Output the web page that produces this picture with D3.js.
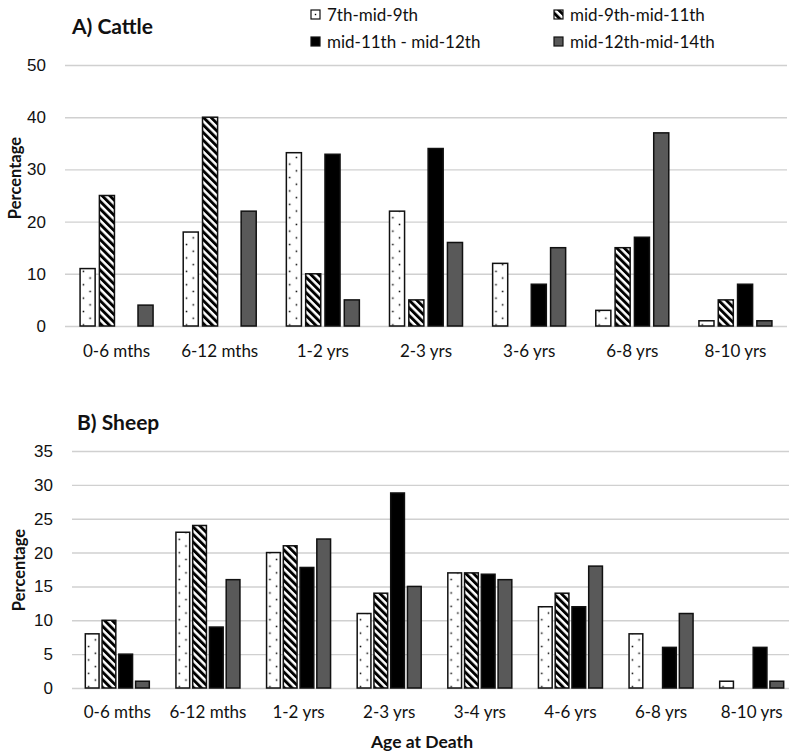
<!DOCTYPE html>
<html lang="en">
<head>
<meta charset="UTF-8">
<title>Age at Death - Cattle and Sheep</title>
<script src="https://cdn.jsdelivr.net/npm/d3@7/dist/d3.min.js"></script>
<style>
  body { margin: 0; background: #fff; }
  svg { display: block; font-family: Lato, "Open Sans", sans-serif; }
</style>
</head>
<body>
<div id="chart"></div>
<script>
// series names (legend order)
const periods = ["7th-mid-9th", "mid-9th-mid-11th", "mid-11th - mid-12th", "mid-12th-mid-14th"];

// A) Cattle
const cattleAges = ["0-6 mths", "6-12 mths", "1-2 yrs", "2-3 yrs", "3-6 yrs", "6-8 yrs", "8-10 yrs"];
const cattle7th9th = [11, 18, 33.2, 22, 12, 3, 1];
const cattle9th11th = [25, 40, 10, 5, 0, 15, 5];
const cattle11th12th = [0, 0, 32.9, 34, 8, 17, 8];
const cattle12th14th = [4, 22, 5, 16, 15, 37, 1];
const cattleTicks = [0, 10, 20, 30, 40, 50];

// B) Sheep
const sheepAges = ["0-6 mths", "6-12 mths", "1-2 yrs", "2-3 yrs", "3-4 yrs", "4-6 yrs", "6-8 yrs", "8-10 yrs"];
const sheep7th9th = [8, 23, 20, 11, 17, 12, 8, 1];
const sheep9th11th = [10, 24, 21, 14, 17, 14, 0, 0];
const sheep11th12th = [5, 9, 17.8, 28.8, 16.8, 12, 6, 6];
const sheep12th14th = [1, 16, 22, 15, 16, 18, 11, 1];
const sheepTicks = [0, 5, 10, 15, 20, 25, 30, 35];

const W = 789, H = 751;
const fills = ["url(#dots)", "url(#hatch)", "#000", "#595959"];

const svg = d3.select("#chart").append("svg")
  .attr("width", W).attr("height", H);

// patterns
const defs = svg.append("defs");
const dots = defs.append("pattern")
  .attr("id", "dots").attr("patternUnits", "userSpaceOnUse")
  .attr("width", 13.4).attr("height", 13.4);
dots.append("rect").attr("width", 13.4).attr("height", 13.4).attr("fill", "#fff");
dots.append("rect").attr("x", 2.6).attr("y", 2.6).attr("width", 1.5).attr("height", 1.5).attr("fill", "#000");
dots.append("rect").attr("x", 9.3).attr("y", 9.3).attr("width", 1.5).attr("height", 1.5).attr("fill", "#000");

const hatch = defs.append("pattern")
  .attr("id", "hatch").attr("patternUnits", "userSpaceOnUse")
  .attr("width", 5.4).attr("height", 10)
  .attr("patternTransform", "rotate(-45)");
hatch.append("rect").attr("width", 5.4).attr("height", 10).attr("fill", "#fff");
hatch.append("rect").attr("width", 2.9).attr("height", 10).attr("fill", "#000");

function drawPanel(opt) {
  const x0 = d3.scaleBand().domain(opt.ages).range([opt.left, opt.right]).paddingInner(0).paddingOuter(0);
  const x1 = d3.scaleBand().domain(d3.range(4)).range([0, opt.groupW]).paddingInner(opt.barPad);
  const y = d3.scaleLinear().domain([0, opt.max]).range([opt.bottom, opt.top]);

  const g = svg.append("g");

  // gridlines + tick labels
  const yAxis = d3.axisLeft(y).tickValues(opt.ticks)
    .tickSize(-(opt.right - opt.left)).tickPadding(18);
  const ga = g.append("g").attr("transform", `translate(${opt.left},0)`).call(yAxis);
  ga.select(".domain").remove();
  ga.selectAll(".tick line").attr("stroke", "#d0d0d0").attr("stroke-width", 1.4);
  ga.selectAll(".tick text").attr("font-size", 17).attr("fill", "#111")
    .attr("x", opt.tickX - opt.left);

  // bars
  const series = opt.series;
  const groups = g.selectAll(".grp").data(opt.ages).join("g")
    .attr("transform", d => `translate(${x0(d) + (x0.bandwidth() - opt.groupW) / 2},0)`);
  groups.selectAll("rect")
    .data((d, i) => series.map((s, k) => ({ k: k, v: s[i] })))
    .join("rect")
    .filter(d => d.v > 0)
    .attr("x", d => x1(d.k))
    .attr("y", d => y(d.v))
    .attr("width", x1.bandwidth())
    .attr("height", d => y(0) - y(d.v))
    .attr("fill", d => fills[d.k])
    .attr("stroke", "#111")
    .attr("stroke-width", 1.5);

  // category labels
  g.selectAll(".cat").data(opt.ages).join("text")
    .attr("x", d => x0(d) + x0.bandwidth() / 2)
    .attr("y", opt.labelY)
    .attr("text-anchor", "middle")
    .attr("font-size", 17).attr("fill", "#111")
    .text(d => d);

  // panel title
  g.append("text").attr("x", opt.titleX).attr("y", opt.titleY)
    .attr("font-size", 21).attr("font-weight", "bold").attr("fill", "#111")
    .text(opt.title);

  // y title
  g.append("text")
    .attr("transform", `translate(${opt.yTitleX},${opt.yTitleY}) rotate(-90)`)
    .attr("text-anchor", "middle")
    .attr("font-size", 16.5).attr("font-weight", "bold").attr("fill", "#111")
    .text("Percentage");
}

drawPanel({
  ages: cattleAges, ticks: cattleTicks, max: 50,
  series: [cattle7th9th, cattle9th11th, cattle11th12th, cattle12th14th],
  left: 65, right: 787, top: 65, bottom: 326, groupW: 73, barPad: 0.22,
  tickX: 46, labelY: 357, title: "A) Cattle", titleX: 72, titleY: 34,
  yTitleX: 21, yTitleY: 178
});

drawPanel({
  ages: sheepAges, ticks: sheepTicks, max: 35,
  series: [sheep7th9th, sheep9th11th, sheep11th12th, sheep12th14th],
  left: 72, right: 797, top: 451, bottom: 688, groupW: 64, barPad: 0.18,
  tickX: 53, labelY: 718, title: "B) Sheep", titleX: 77, titleY: 430,
  yTitleX: 25, yTitleY: 570
});

// x title
svg.append("text").attr("x", 422).attr("y", 748)
  .attr("text-anchor", "middle").attr("font-size", 17.5).attr("font-weight", "bold")
  .attr("fill", "#111").text("Age at Death");

// legend
const legendPos = [[311, 15], [554, 15], [311, 42], [554, 42]];
const lg = svg.selectAll(".leg").data(periods).join("g")
  .attr("transform", (d, i) => `translate(${legendPos[i][0]},${legendPos[i][1]})`);
lg.append("rect").attr("x", 0).attr("y", -5).attr("width", 9).attr("height", 9)
  .attr("fill", (d, i) => i === 0 ? "#fff" : fills[i])
  .attr("stroke", "#111").attr("stroke-width", 1.2);
lg.filter((d, i) => i === 0).append("rect")
  .attr("x", 3.8).attr("y", -1.2).attr("width", 1.4).attr("height", 1.4).attr("fill", "#000");
lg.append("text").attr("x", 16).attr("y", 6)
  .attr("font-size", 17).attr("fill", "#111").text(d => d);
</script>
</body>
</html>
